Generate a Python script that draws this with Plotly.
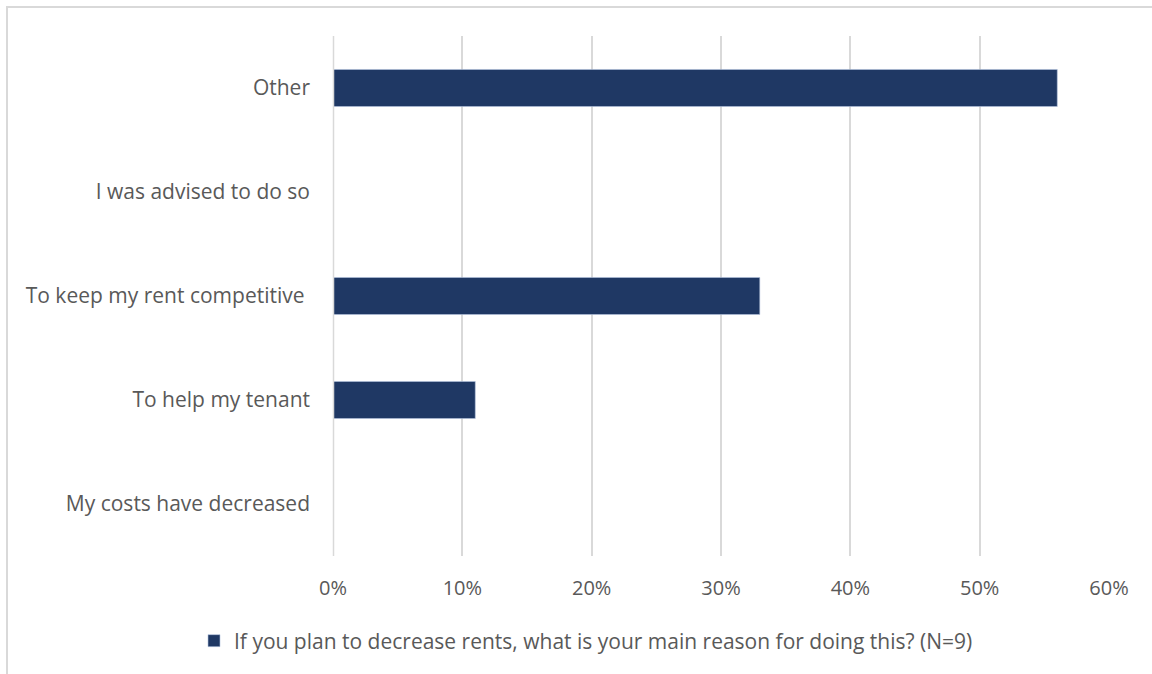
import plotly.graph_objects as go

# Survey answers, bottom to top as drawn on the category axis
reasons = [
    "My costs have decreased",
    "To help my tenant",
    "To keep my rent competitive\u00a0",
    "I was advised to do so",
    "Other",
]
shares = [0.0, 0.11, 0.33, 0.0, 0.56]
series_name = "If you plan to decrease rents, what is your main reason for doing this? (N=9)"
tick_values = [0, 0.1, 0.2, 0.3, 0.4, 0.5, 0.6]

W, H = 1152, 674
L, R, T, B = 333, 43, 36, 118
plot_w = W - L - R
plot_h = H - T - B

TEXT = "#595959"
GRID = "#d9d9d9"
BAR = "#1f3864"
FONT = "Open Sans"
SIZE = 21

fig = go.Figure()
fig.add_trace(go.Bar(
    y=reasons,
    x=shares,
    orientation="h",
    name=series_name,
    marker=dict(color=BAR, line=dict(color="#b4c3de", width=0.6)),
    width=0.356,
    showlegend=True,
))

def px_x(p):
    return (p - L) / plot_w

def px_y(p):
    return (H - B - p) / plot_h

# Outer chart frame (top and left edges visible)
fig.add_shape(
    type="rect", xref="paper", yref="paper",
    x0=px_x(7), x1=px_x(1300), y0=px_y(800), y1=px_y(7),
    line=dict(color=GRID, width=2), fillcolor="rgba(0,0,0,0)", layer="below",
)
# Gridline at 0% on the left edge of the plot area
fig.add_shape(
    type="line", xref="paper", yref="paper",
    x0=px_x(333.5), x1=px_x(333.5), y0=0, y1=1,
    line=dict(color=GRID, width=1.5), layer="above",
)

fig.update_layout(
    width=W, height=H,
    margin=dict(l=L, r=R, t=T, b=B, autoexpand=False),
    paper_bgcolor="white",
    plot_bgcolor="rgba(0,0,0,0)",
    font=dict(family=FONT, size=SIZE, color=TEXT),
    xaxis=dict(
        range=[0, 0.6],
        tickvals=tick_values,
        tickformat=".0%",
        showgrid=True, gridcolor=GRID, gridwidth=1.5,
        zeroline=False, showline=False,
        ticks="", ticklabelstandoff=18,
        tickfont=dict(family=FONT, size=SIZE - 1, color=TEXT),
        fixedrange=True,
    ),
    yaxis=dict(
        categoryorder="array", categoryarray=reasons,
        showgrid=False, zeroline=False, showline=False,
        ticks="", ticklabelstandoff=22,
        tickfont=dict(family=FONT, size=SIZE, color=TEXT),
        fixedrange=True,
    ),
    legend=dict(
        orientation="h",
        x=px_x(586), xanchor="center",
        y=px_y(641), yanchor="middle",
        font=dict(family=FONT, size=SIZE, color=TEXT),
        itemwidth=30,
        bgcolor="rgba(0,0,0,0)",
    ),
)

fig.write_html("out.html")
